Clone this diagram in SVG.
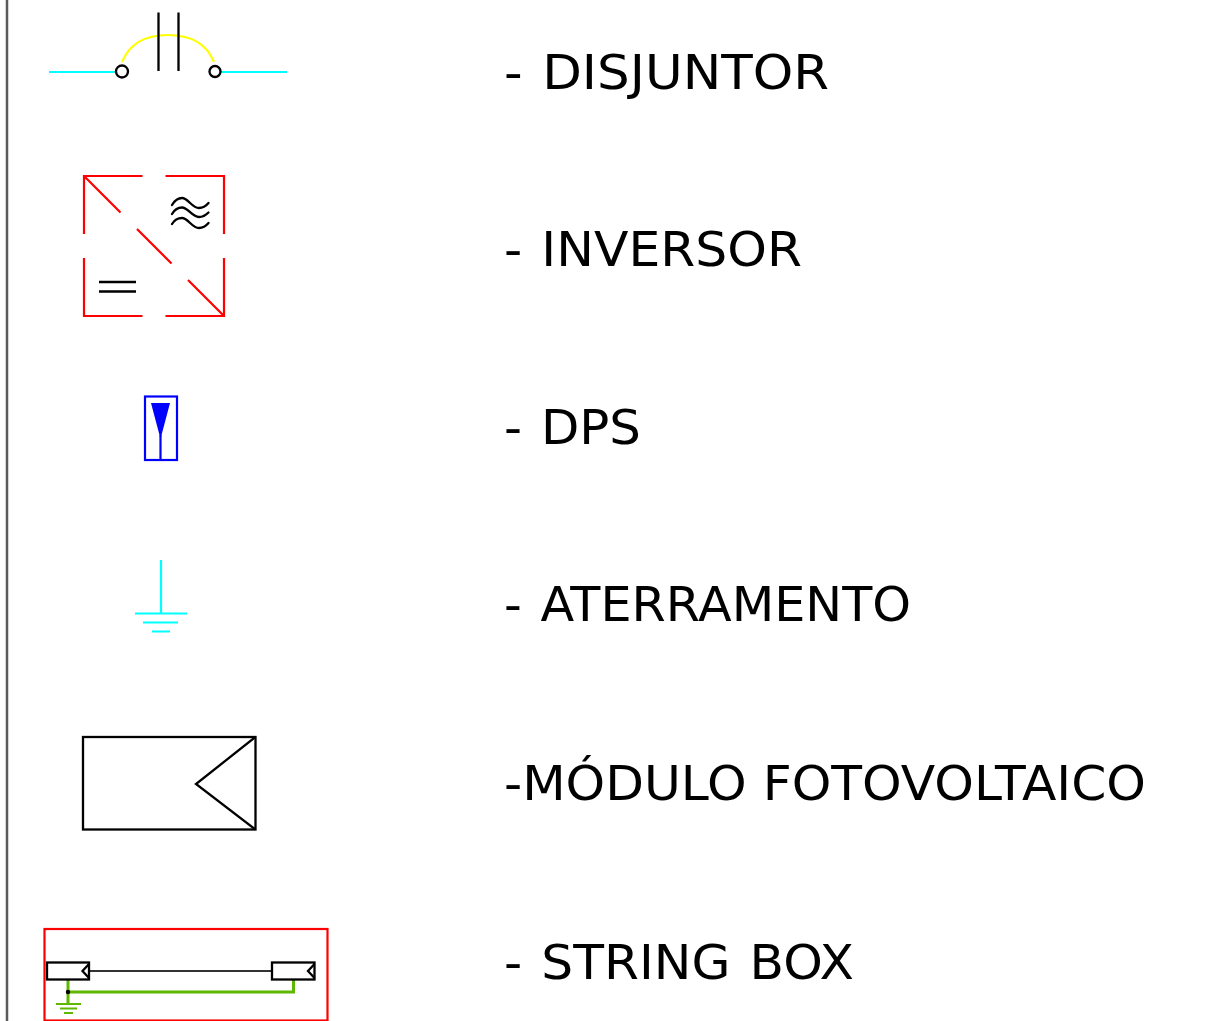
<svg xmlns="http://www.w3.org/2000/svg" width="1214" height="1021" viewBox="0 0 1214 1021">
<style>
.l{font-family:"DejaVu Sans",Verdana,sans-serif;font-size:48px;fill:#000;word-spacing:3px}
.n{word-spacing:0}
.k{stroke:#000;fill:none;stroke-width:2.300}
.r{stroke:#f00;fill:none;stroke-width:2.200}
.c{stroke:#0ff;fill:none;stroke-width:2.200}
.b{stroke:#00f;fill:none;stroke-width:2.200}
.g{stroke:#5fb800;fill:none;stroke-width:3}
</style>
<rect width="1214" height="1021" fill="#fff"/>
<line x1="7" y1="0" x2="7" y2="1021" stroke="#5a5a5a" stroke-width="2.500"/>
<g id="disjuntor">
<path class="c" d="M49 72H116M221 72H287"/>
<path d="M122 62Q133 35 168 35Q203 35 214 62" fill="none" stroke="#ff0" stroke-width="2.200"/>
<path class="k" d="M158.500 12.500V71M178.500 12.500V71"/>
<circle class="k" cx="122" cy="71.500" r="6"/>
<circle class="k" cx="215" cy="71.500" r="5.500"/>
<text class="l" x="504" y="89" textLength="325" lengthAdjust="spacingAndGlyphs">- DISJUNTOR</text>
</g>
<g id="inversor">
<path class="r" d="M84 234V176H142.500M165.500 176H224V234M84 258V316H142.500M165.500 316H224V258M84 176L120.500 212.500M137 229L171.500 263.500M188 280L224 316"/>
<path class="k" stroke-linecap="round" d="M172 205C175 200 178 198 182 198C188 198 192 208 199 208C203 208 206 206 208.500 203M172 214C175 209 178 207.500 182 207.500C188 207.500 192 217 199 217C203 217 206 215 208.500 212.500M172 224C175 219 178 218 182 218C188 218 192 228 199 228C203 228 206 226 208.500 223"/>
<path class="k" d="M99 282H136M99 291.500H136"/>
<text class="l" x="504" y="266" textLength="298" lengthAdjust="spacingAndGlyphs">- INVERSOR</text>
</g>
<g id="dps">
<rect class="b" x="145" y="396.500" width="32" height="63.500"/>
<path d="M151 403H170L161 437H160Z" fill="#00f"/>
<path class="b" d="M160.500 435V460"/>
<text class="l" x="504" y="444" textLength="137" lengthAdjust="spacingAndGlyphs">- DPS</text>
</g>
<g id="aterramento">
<path class="c" d="M161 560V613.500M135 613.500H187M143 622.500H178M152 631.500H170"/>
<text class="l" x="504" y="621" textLength="407" lengthAdjust="spacingAndGlyphs">- ATERRAMENTO</text>
</g>
<g id="modulo">
<rect class="k" x="83" y="737" width="172.500" height="92.500"/>
<path class="k" d="M255.500 737L196 784L255.500 829.500"/>
<text class="l n" x="504" y="800" textLength="642" lengthAdjust="spacingAndGlyphs">-MÓDULO FOTOVOLTAICO</text>
</g>
<g id="string-box">
<rect class="r" x="44.500" y="929" width="283" height="91.500"/>
<path d="M89 971H272" fill="none" stroke="#333" stroke-width="2.200"/>
<path class="g" d="M68 979V1003M68 992H293.500V979"/>
<path d="M56 1004H81M60 1008.500H77M64 1013H73" fill="none" stroke="#5fb800" stroke-width="2.200"/>
<circle cx="68" cy="992" r="2.200" fill="#000"/>
<rect class="k" x="47" y="962.500" width="42" height="17"/>
<path class="k" d="M89 964L82.500 971L89 978"/>
<rect class="k" x="272" y="962.500" width="42.500" height="17"/>
<path class="k" d="M314.500 964L308 971L314.500 978"/>
<text class="l" x="504" y="979" textLength="350" lengthAdjust="spacingAndGlyphs">- STRING BOX</text>
</g>
</svg>
